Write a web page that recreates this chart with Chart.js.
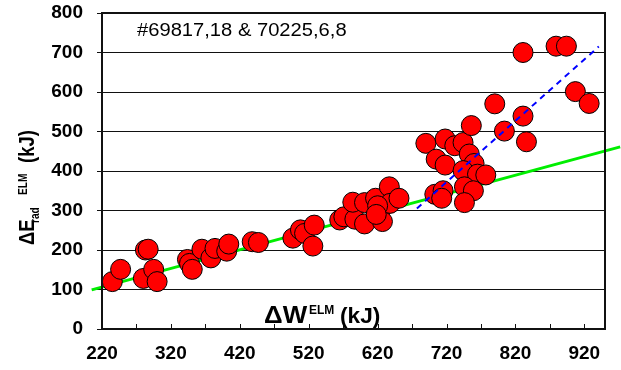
<!DOCTYPE html>
<html>
<head>
<meta charset="utf-8">
<script src="https://cdn.jsdelivr.net/npm/chart.js@4/dist/chart.umd.min.js"></script>
<style>
  html, body { margin: 0; padding: 0; background: #fff; }
  #wrap { width: 621px; height: 370px; }
</style>
</head>
<body>
<div id="wrap"><canvas id="myChart" width="621" height="370"></canvas></div>
<script>
// ELM energy data (kJ)
const elmW = [235, 247, 283, 287, 280, 295, 300, 344, 347, 351, 365, 378, 384, 401, 404, 438, 447,
  497, 508, 514, 528, 526, 565, 571, 587, 584, 601, 601, 617, 623, 627, 637, 638, 651, 620, 618,
  690, 705, 718, 718, 732, 744, 753, 756, 760, 744, 765, 777, 703, 715, 713, 746, 759, 746,
  790, 804, 831, 836, 831, 879, 894, 907, 927];
const elmErad = [120, 151, 200, 202, 128, 151, 120, 176, 166, 151, 202, 180, 204, 197, 215, 221, 219,
  230, 251, 242, 263, 210, 276, 284, 278, 321, 266, 320, 331, 297, 272, 360, 318, 331, 312, 290,
  470, 430, 481, 415, 464, 472, 443, 515, 419, 401, 392, 390, 341, 350, 331, 360, 350, 320,
  570, 501, 539, 474, 700, 716, 716, 601, 571];

// fit lines
const greenW = [205, 972];
const greenErad = [99, 461];
const blueW = [677, 941];
const blueErad = [305, 715];

const xLabelTicks = [220, 320, 420, 520, 620, 720, 820, 920];
const xMinorTicks = [270, 370, 470, 570, 670, 770, 870];
const shotLabel = '#69817,18 & 70225,6,8';

const toPts = (xs, ys) => xs.map((x, i) => ({ x: x, y: ys[i] }));
const FONT = "'Liberation Sans', Arial, sans-serif";

const decor = {
  id: 'decor',
  afterDraw(chart) {
    const c = chart.ctx;
    const a = chart.chartArea;
    const xs = chart.scales.x;
    c.save();
    // box
    c.strokeStyle = '#111';
    c.lineWidth = 2;
    c.strokeRect(a.left, a.top, a.right - a.left, a.bottom - a.top);
    // inward x ticks
    c.lineWidth = 1;
    c.beginPath();
    xLabelTicks.concat(xMinorTicks).forEach(v => {
      const px = Math.round(xs.getPixelForValue(v)) + 0.5;
      c.moveTo(px, a.bottom);
      c.lineTo(px, a.bottom - 5);
    });
    c.stroke();

    c.fillStyle = '#000';
    c.textBaseline = 'alphabetic';
    const put = (txt, font, x, y, sx) => {
      c.save();
      c.translate(x, y);
      c.scale(sx, 1);
      c.font = font;
      c.fillText(txt, 0, 0);
      c.restore();
    };
    // shot numbers
    put(shotLabel, '18px ' + FONT, 137, 36, 1.12);
    // x title
    put('\u0394W', 'bold 24px ' + FONT, 264, 323, 1.08);
    put('ELM', 'bold 12px ' + FONT, 309, 314, 1.0);
    put('(kJ)', 'bold 22px ' + FONT, 340, 323, 1.03);
    // y title, rotated
    const rot = (txt, font, bx, y0) => {
      c.save();
      c.translate(bx, y0);
      c.rotate(-Math.PI / 2);
      c.scale(0.84, 1);
      c.font = font;
      c.fillText(txt, 0, 0);
      c.restore();
    };
    rot('\u0394E', 'bold 22px ' + FONT, 33.5, 245);
    rot('rad', 'bold 12px ' + FONT, 38.5, 223);
    rot('ELM', 'bold 12px ' + FONT, 26.5, 195);
    rot('(kJ)', 'bold 22px ' + FONT, 34, 163);
    c.restore();
  }
};

const ctx = document.getElementById('myChart').getContext('2d');
const myChart = new Chart(ctx, {
  type: 'scatter',
  data: {
    datasets: [
      {
        label: 'fit',
        type: 'line',
        data: toPts(blueW, blueErad),
        borderColor: '#0000ff',
        borderWidth: 2,
        borderDash: [6, 5],
        pointRadius: 0,
        fill: false,
        order: 0
      },
      {
        label: 'ELM',
        data: toPts(elmW, elmErad),
        backgroundColor: '#ff0000',
        borderColor: '#000',
        borderWidth: 1,
        pointRadius: 10,
        pointHoverRadius: 10,
        order: 1
      },
      {
        label: 'linear',
        type: 'line',
        data: toPts(greenW, greenErad),
        borderColor: '#00ee00',
        borderWidth: 3,
        pointRadius: 0,
        fill: false,
        clip: false,
        order: 2
      }
    ]
  },
  options: {
    responsive: false,
    animation: false,
    layout: { padding: { top: 13, right: 16, left: 0, bottom: 0 } },
    plugins: {
      legend: { display: false },
      tooltip: { enabled: false }
    },
    scales: {
      x: {
        type: 'linear',
        min: 220,
        max: 950,
        afterBuildTicks: s => { s.ticks = xLabelTicks.map(v => ({ value: v })); },
        afterFit: s => { s.height = 41; s.paddingLeft = 0; s.paddingRight = 0; },
        grid: { display: false, drawTicks: false },
        border: { display: false },
        ticks: {
          color: '#000',
          padding: 13,
          maxRotation: 0,
          autoSkip: false,
          font: { family: FONT, size: 19, weight: 'bold' }
        }
      },
      y: {
        min: 0,
        max: 800,
        afterFit: s => { s.width = 102; s.paddingTop = 0; s.paddingBottom = 0; },
        grid: { color: '#111', lineWidth: 1, tickLength: 5, drawTicks: true },
        border: { display: false },
        ticks: {
          stepSize: 100,
          color: '#000',
          padding: 14,
          font: { family: FONT, size: 19, weight: 'bold' }
        }
      }
    }
  },
  plugins: [decor]
});
</script>
</body>
</html>
